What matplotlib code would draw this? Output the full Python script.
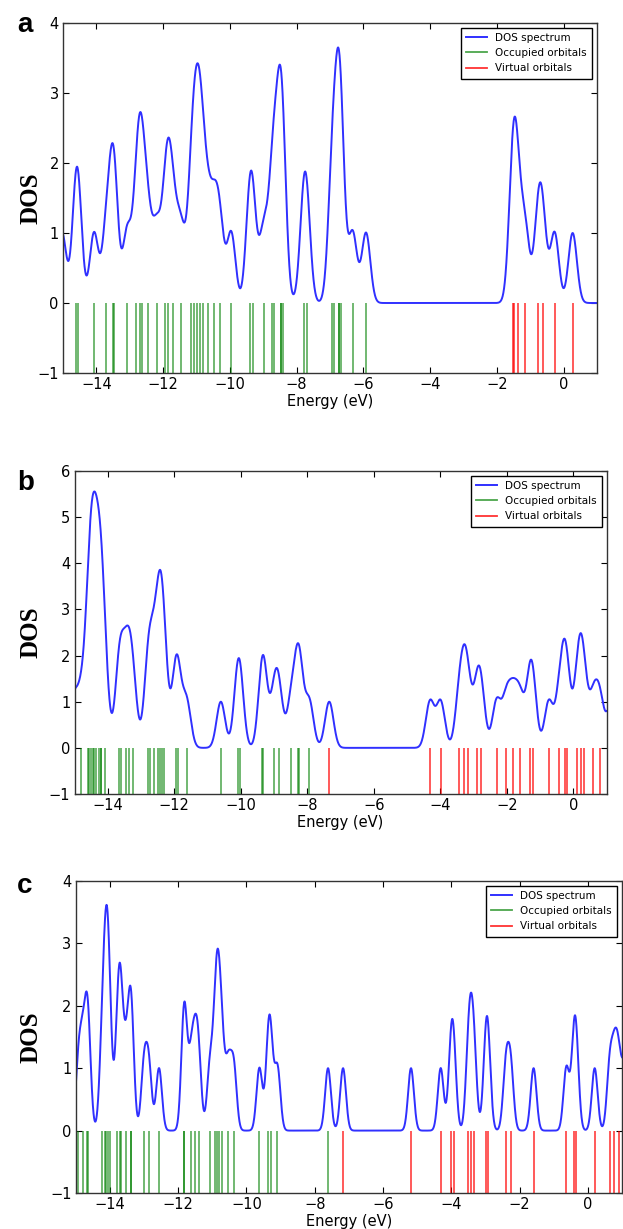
import numpy as np
import matplotlib.pyplot as plt
from matplotlib.lines import Line2D

# orbital energies (eV)
occ_a = [-15.03, -14.61, -14.55, -14.07, -13.70, -13.50, -13.47, -13.08, -12.80, -12.70,
         -12.62, -12.45, -12.19, -11.93, -11.84, -11.70, -11.47, -11.17, -11.08, -10.98,
         -10.91, -10.82, -10.66, -10.47, -10.30, -9.96, -9.41, -9.32, -8.99,
         -8.73, -8.67, -8.48, -8.48, -8.42, -7.79, -7.70, -6.95, -6.89, -6.72, -6.72,
         -6.68, -6.32, -5.92]
virt_a = [-1.53, -1.49, -1.37, -1.15, -0.77, -0.63, -0.27, 0.27]

occ_b = [-15.05, -14.81, -14.60, -14.55, -14.50, -14.45, -14.40, -14.35, -14.26, -14.20,
         -14.20, -14.08, -13.67, -13.61, -13.44, -13.35, -13.23, -12.80, -12.74, -12.60,
         -12.48, -12.43, -12.36, -12.30, -11.96, -11.90, -11.63, -10.60, -10.09, -10.03,
         -9.35, -9.32, -8.99, -8.85, -8.48, -8.27, -8.24, -7.94]
virt_b = [-7.34, -4.31, -3.99, -3.43, -3.28, -3.18, -2.90, -2.77, -2.31, -2.02, -1.81,
          -1.60, -1.31, -1.22, -0.74, -0.42, -0.26, -0.20, 0.12, 0.22, 0.32, 0.60, 0.80,
          1.15]

occ_c = [-14.92, -14.80, -14.68, -14.63, -14.23, -14.15, -14.10, -14.06, -14.01, -13.78,
         -13.71, -13.67, -13.52, -13.38, -13.38, -13.00, -12.86, -12.56, -11.82, -11.82,
         -11.62, -11.50, -11.40, -11.07, -10.91, -10.86, -10.80, -10.71, -10.53, -10.37,
         -9.62, -9.36, -9.29, -9.09, -7.61]
virt_c = [-7.17, -5.18, -4.31, -4.01, -3.93, -3.50, -3.42, -3.33, -2.99, -2.92, -2.40,
          -2.26, -1.59, -0.63, -0.41, -0.34, 0.20, 0.64, 0.78, 0.90, 1.08]

# gaussian broadening (FWHM, eV) used for each spectrum
fwhm = {"a": 0.30, "b": 0.30, "c": 0.20}
ytop = {"a": 4, "b": 6, "c": 4}
xticks = [-14, -12, -10, -8, -6, -4, -2, 0]

W, H = 623, 1229
# axes box in pixels: left, right, top, bottom, and y of the panel letter
boxes = {
    "a": (63, 597, 23, 373, 25),
    "b": (74.5, 606.6, 471, 794, 483),
    "c": (75.7, 622, 881, 1193, 886),
}


def dos(levels, width, grid):
    lv = np.asarray(levels)[:, None]
    return np.exp(-4 * np.log(2) * ((grid[None, :] - lv) / width) ** 2).sum(axis=0)


plt.rcParams["font.family"] = "DejaVu Sans"
fig = plt.figure(figsize=(W / 100, H / 100), dpi=100)

for key, occ, virt in [("a", occ_a, virt_a), ("b", occ_b, virt_b), ("c", occ_c, virt_c)]:
    l, r, t, b, ty = boxes[key]
    ax = fig.add_axes([l / W, 1 - b / H, (r - l) / W, (b - t) / H])
    grid = np.linspace(-15, 1, 3000)
    ax.plot(grid, dos(occ + virt, fwhm[key], grid), color="#3030ff", lw=1.4)
    ax.vlines(occ, -1, 0, color="green", lw=1.3, alpha=0.6)
    ax.vlines(virt, -1, 0, color="red", lw=1.3, alpha=0.7)
    ax.set_xlim(-15, 1)
    ax.set_ylim(-1, ytop[key])
    ax.set_xticks(xticks)
    ax.set_yticks(range(-1, ytop[key] + 1))
    ax.tick_params(direction="in", top=True, right=True, length=4, width=0.8,
                   labelsize=10.5, pad=3)
    for s in ax.spines.values():
        s.set_linewidth(1.0)
        s.set_color("#333333")
    ax.set_xlabel("Energy (eV)", fontsize=10.5, labelpad=1)
    handles = [Line2D([], [], color="#3030ff", lw=1.4),
               Line2D([], [], color="green", lw=1.3, alpha=0.7),
               Line2D([], [], color="red", lw=1.3, alpha=0.8)]
    leg = ax.legend(handles, ["DOS spectrum", "Occupied orbitals", "Virtual orbitals"],
                    loc="upper right", fontsize=7.5, fancybox=False, framealpha=1,
                    borderaxespad=0.45, borderpad=0.5, handlelength=2.0,
                    labelspacing=0.5, handletextpad=0.8)
    leg.get_frame().set_edgecolor("black")
    leg.get_frame().set_linewidth(1.0)
    fig.text(17 / W, 1 - ty / H, key, fontsize=20, fontweight="bold",
             family="Liberation Sans", ha="left", va="center")
    fig.text(31 / W, 1 - ((t + b) / 2) / H, "DOS", fontsize=18, fontweight="bold",
             family="Liberation Serif", rotation=90, ha="center", va="center")

fig.savefig("out.png", dpi=100)
